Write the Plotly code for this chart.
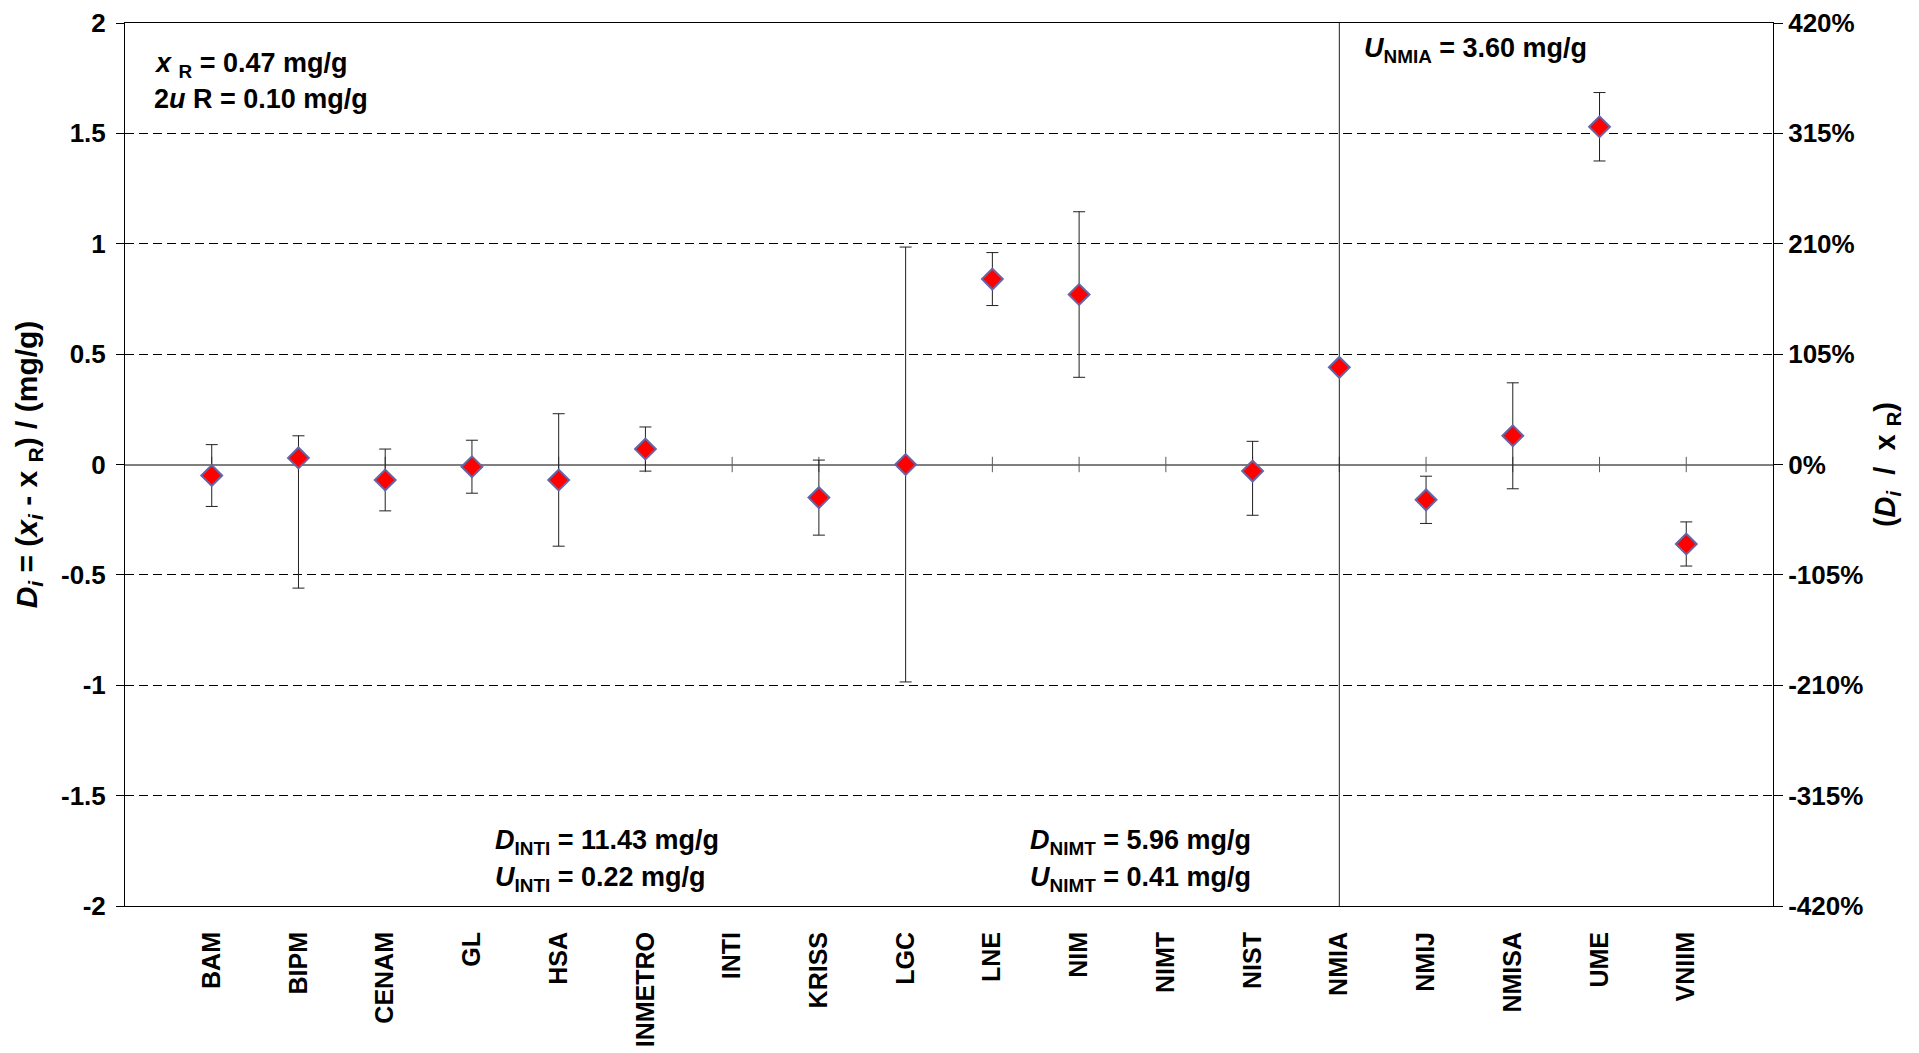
import plotly.graph_objects as go

# ---------------- data ----------------
categories = ["BAM", "BIPM", "CENAM", "GL", "HSA", "INMETRO", "INTI", "KRISS", "LGC",
              "LNE", "NIM", "NIMT", "NIST", "NMIA", "NMIJ", "NMISA", "UME", "VNIIM"]
d_values = [-0.05, 0.03, -0.07, -0.01, -0.07, 0.07, 11.43, -0.15, 0.00,
            0.84, 0.77, 5.96, -0.03, 0.44, -0.16, 0.13, 1.53, -0.36]
u_plus = [0.14, 0.10, 0.14, 0.12, 0.30, 0.10, 0.22, 0.17, 0.985,
          0.12, 0.375, 0.41, 0.135, 3.60, 0.107, 0.24, 0.155, 0.10]
u_minus = [0.14, 0.59, 0.14, 0.12, 0.30, 0.10, 0.22, 0.17, 0.985,
           0.12, 0.375, 0.41, 0.20, 3.60, 0.107, 0.24, 0.155, 0.10]

left_tick_values = [-2, -1.5, -1, -0.5, 0, 0.5, 1, 1.5, 2]
left_tick_labels = ["-2", "-1.5", "-1", "-0.5", "0", "0.5", "1", "1.5", "2"]
right_tick_values = [-4.2, -3.15, -2.1, -1.05, 0, 1.05, 2.1, 3.15, 4.2]
right_tick_labels = ["-420%", "-315%", "-210%", "-105%", "0%", "105%", "210%", "315%", "420%"]

positions = list(range(1, len(categories) + 1))
FONT = "Liberation Sans, Arial, sans-serif"

fig = go.Figure()

# small cross tick marks on the zero (category) line
fig.add_trace(go.Scatter(
    x=positions, y=[0] * len(positions), mode="markers",
    marker=dict(symbol="line-ns", size=11, line=dict(color="#5a5a5a", width=1)),
    hoverinfo="skip", showlegend=False))

# data points with uncertainty bars
fig.add_trace(go.Scatter(
    x=positions, y=d_values, mode="markers",
    marker=dict(symbol="diamond", size=16, color="#FF0000",
                line=dict(color="#6466A6", width=2)),
    error_y=dict(type="data", symmetric=False, array=u_plus, arrayminus=u_minus,
                 color="#202020", thickness=1, width=6),
    showlegend=False))

# invisible trace to activate the secondary axis
fig.add_trace(go.Scatter(x=[positions[0]], y=[0], yaxis="y2", mode="markers",
                         marker=dict(opacity=0), hoverinfo="skip", showlegend=False))

tickfont = dict(family=FONT, size=26, color="black", weight="bold")

fig.update_layout(
    width=1911, height=1045,
    margin=dict(l=117, r=146, t=15, b=147, autoexpand=False),
    paper_bgcolor="white", plot_bgcolor="white",
    font=dict(family=FONT, color="black"),
    xaxis=dict(range=[0, len(categories) + 1], tickvals=positions, ticktext=categories,
               tickangle=-90, ticks="", showgrid=False, zeroline=False,
               showline=True, linecolor="black", linewidth=1, mirror=True,
               tickfont=dict(family=FONT, size=25, color="black", weight="bold"),
               ticklabelstandoff=15),
    yaxis=dict(range=[-2, 2], tickvals=left_tick_values, ticktext=left_tick_labels,
               ticks="outside", ticklen=8, tickcolor="black", tickwidth=1,
               showline=True, linecolor="black", linewidth=1,
               showgrid=True, gridcolor="black", gridwidth=1, griddash="9px,5px",
               zeroline=True, zerolinecolor="#7f7f7f", zerolinewidth=2,
               tickfont=tickfont, ticklabelstandoff=5,
               title=dict(text="<i>D</i><sub><i>i</i></sub> = (<i>x</i><sub><i>i</i></sub> - x\u00a0<sub>R</sub>) / (mg/g)",
                          font=dict(family=FONT, size=30, color="black", weight="bold"),
                          standoff=14)),
    yaxis2=dict(range=[-4.2, 4.2], overlaying="y", side="right",
                tickvals=right_tick_values, ticktext=right_tick_labels,
                ticks="outside", ticklen=9, tickcolor="black", tickwidth=1,
                showline=True, linecolor="black", linewidth=1,
                showgrid=False, zeroline=False,
                tickfont=tickfont, ticklabelstandoff=0,
                title=dict(text="(<i>D</i><sub><i>i</i></sub>\u00a0\u00a0/\u00a0\u00a0x\u00a0<sub>R</sub>)",
                           font=dict(family=FONT, size=29, color="black", weight="bold"),
                           standoff=12)),
)

ann_font = dict(family=FONT, size=27, color="black", weight="bold")
annotations = [
    (0.0164, 1.810, "<i>x</i>\u00a0<sub>R</sub> = 0.47 mg/g"),
    (0.0164, 1.655, "2<i>u</i>\u00a0R = 0.10 mg/g"),
    (0.7506, 1.879, "<i>U</i><sub>NMIA</sub> = 3.60 mg/g"),
    (0.2233, -1.711, "<i>D</i><sub>INTI</sub> = 11.43 mg/g"),
    (0.2233, -1.879, "<i>U</i><sub>INTI</sub> = 0.22 mg/g"),
    (0.548, -1.711, "<i>D</i><sub>NIMT</sub> = 5.96 mg/g"),
    (0.548, -1.879, "<i>U</i><sub>NIMT</sub> = 0.41 mg/g"),
]
for ax, ay, txt in annotations:
    fig.add_annotation(xref="paper", yref="y", x=ax, y=ay, text=txt, showarrow=False,
                       xanchor="left", yanchor="middle", font=ann_font)

fig.write_html("out.html")
